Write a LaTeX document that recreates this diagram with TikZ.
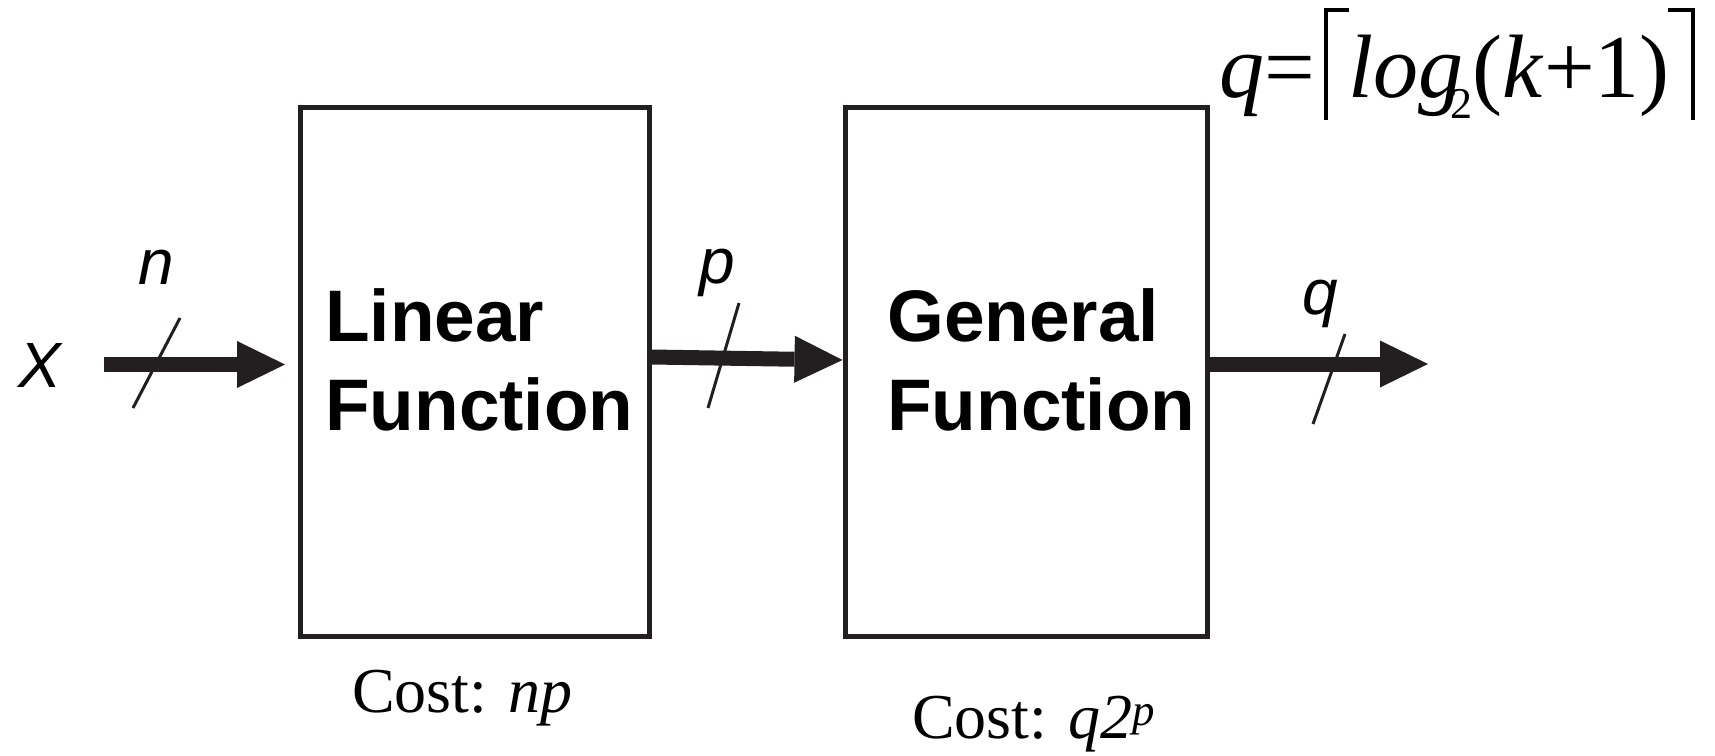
\documentclass[tikz,border=0pt]{standalone}
\usepackage{fontspec}
\setmainfont{Liberation Serif}
\newfontfamily\labelsans{Liberation Sans}
\usetikzlibrary{arrows.meta}
\definecolor{ink}{HTML}{231F20}

% tall ceiling brackets around the logarithm, built from rules
\newcommand\fenceL{\kern9pt\rule[-23pt]{4pt}{112pt}\rule[85pt]{21pt}{4pt}}
\newcommand\fenceR{\kern-2pt\rule[85pt]{23pt}{4pt}\rule[-23pt]{4pt}{112pt}}

\tikzset{
  block/.style={draw=ink, line width=5pt, minimum width=349pt, minimum height=529pt, inner sep=0pt},
  blocktext/.style={anchor=base west, align=left, inner sep=0pt,
    font=\labelsans\bfseries\fontsize{73}{89}\selectfont},
  bus/.style={draw=ink, line width=15pt,
    -{Triangle[length=48pt,width=47pt,line width=0pt]}},
  tick/.style={draw=ink, line width=3pt},
  wirelabel/.style={anchor=base, inner sep=0pt,
    font=\labelsans\itshape\fontsize{64}{70}\selectfont},
  costtext/.style={anchor=base west, inner sep=0pt, font=\fontsize{64}{70}\selectfont},
}

\begin{document}
\begin{tikzpicture}[x=1pt,y=-1pt]
\useasboundingbox (0,0) rectangle (1715,755);

% the two function blocks
\node[block] (lin) at (474.5,371.5) {};
\node[block, minimum width=362pt] (gen) at (1026,371.5) {};
\node[blocktext] (lintext) at (325,430) {Linear\\Function};
\node[blocktext] (gentext) at (887,430) {General\\Function};

% costs under the blocks
\node[costtext] (lincost) at (352,712) {Cost: \textit{np}};
\node[costtext] (gencost) at (912,738) {Cost: \textit{q2\textsuperscript{p}}};

% bus widths
\node[wirelabel] (xlab) at (40,387) {X};
\node[wirelabel] (nlab) at (156,284) {n};
\node[wirelabel] (plab) at (717,283) {p};
\node[wirelabel] (qlab) at (1320,314) {q};

% data paths
\coordinate (xin) at (104,364.5);
\coordinate (mid1) at (0,357);
\coordinate (mid2) at (0,360);
\coordinate (qout) at (1428,364);
\draw[bus, shorten >=12.5pt] (xin) -- (xin -| lin.west);
\draw[bus] (lin.east |- mid1) -- (gen.west |- mid2);
\draw[bus] (gen.east |- qout) -- (qout);

% slashes marking bus widths
\draw[tick] (180,318) -- (133,408);
\draw[tick] (739,303) -- (708,408);
\draw[tick] (1345,334) -- (1313,424);

% output width
\node[anchor=base west, inner sep=0pt] (qdef) at (1219,97)
  {\fontsize{90}{100}\selectfont\textit{q}=\fenceL\textit{log}\kern-13pt\raisebox{-21pt}{\fontsize{44}{44}\selectfont 2}(\textit{k}+1)\fenceR};
\end{tikzpicture}
\end{document}
